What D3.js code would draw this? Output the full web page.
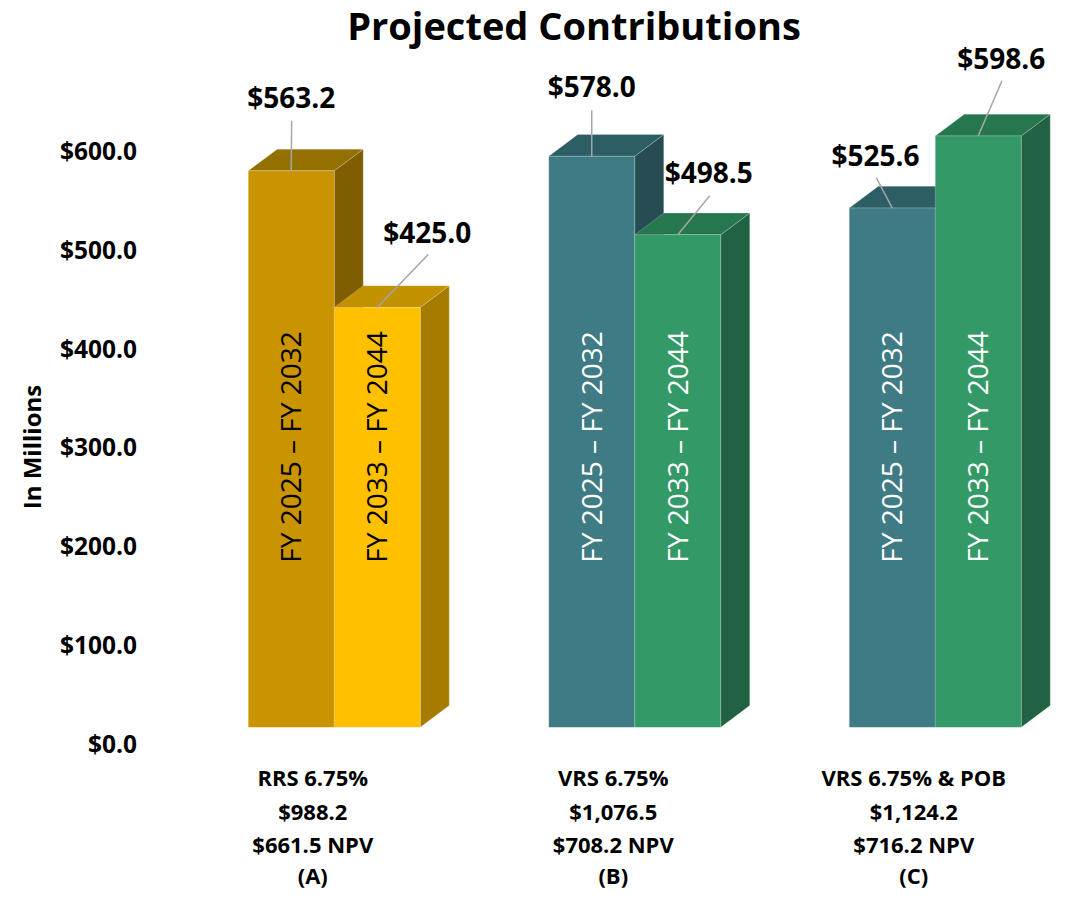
<!DOCTYPE html>
<html>
<head>
<meta charset="utf-8">
<script src="https://cdn.jsdelivr.net/npm/d3@7"></script>
<style>
  html, body { margin: 0; padding: 0; background: #ffffff; }
  svg { display: block; font-family: "Open Sans", "DejaVu Sans", sans-serif; }
</style>
</head>
<body>
<svg id="chart" width="1069" height="898"></svg>
<script>
// ---- data ----
const groups = ["A", "B", "C"];
const categoryLines = [
  ["RRS 6.75%", "$988.2", "$661.5 NPV", "(A)"],
  ["VRS 6.75%", "$1,076.5", "$708.2 NPV", "(B)"],
  ["VRS 6.75% & POB", "$1,124.2", "$716.2 NPV", "(C)"]
];
const seriesNames = ["FY 2025 \u2013 FY 2032", "FY 2033 \u2013 FY 2044"];
const valuesFirst = [563.2, 578.0, 525.6];   // FY 2025 – FY 2032
const valuesSecond = [425.0, 498.5, 598.6];  // FY 2033 – FY 2044
const yTicks = [0, 100, 200, 300, 400, 500, 600];

// ---- layout ----
const W = 1069, H = 898;
const depthX = 29, depthY = -21.7;           // 3D extrusion of each bar
const svg = d3.select("#chart");

const x = d3.scaleBand()
  .domain(groups)
  .range([184, 1085.5])
  .paddingInner(0.4276)
  .paddingOuter(0.2138);
const xs = d3.scaleBand().domain([0, 1]).range([0, x.bandwidth()]);
const y = d3.scaleLinear().domain([0, 600]).range([727.3, 134.5]);

// face colours per group and series: [front, top, side]
const palette = [
  [["#C99400", "#937000", "#7E5E00"], ["#FFC000", "#C29100", "#A57C00"]],
  [["#3F7B84", "#2D5E65", "#274D53"], ["#339966", "#27774E", "#216242"]],
  [["#3F7B84", "#2D5E65", "#274D53"], ["#339966", "#27774E", "#216242"]]
];
const innerTextColor = ["#000000", "#ffffff", "#ffffff"];

// value-label placement relative to the top-centre of each bar's front face
// [labelDx, labelDy, leaderDx, leaderDy]
const labelOffsets = [
  [[0, -63, 0.4, -50], [50, -64.7, 51, -53]],
  [[0, -59, 0, -46], [31, -51.5, 32, -39]],
  [[-16.7, -42, -16, -30.3], [23, -66.6, 23.7, -55.2]]
];

// ---- title ----
svg.append("text")
  .attr("x", 574).attr("y", 40)
  .attr("text-anchor", "middle")
  .attr("font-size", 38).attr("font-weight", 700)
  .attr("fill", "#000")
  .text("Projected Contributions");

// ---- y axis labels ----
const fmtTick = d => "$" + d3.format(",.1f")(d);
svg.append("g").selectAll("text")
  .data(yTicks).join("text")
  .attr("x", 137)
  .attr("y", d => y(d) + 17)
  .attr("dy", "0.35em")
  .attr("text-anchor", "end")
  .attr("font-size", 24.5).attr("font-weight", 700)
  .attr("fill", "#000")
  .text(fmtTick);

svg.append("text")
  .attr("transform", "translate(33,447) rotate(-90)")
  .attr("text-anchor", "middle")
  .attr("dy", "0.35em")
  .attr("font-size", 24).attr("font-weight", 700)
  .attr("fill", "#000")
  .text("In Millions");

// ---- bars ----
const bars = [];
groups.forEach((g, gi) => {
  [valuesFirst[gi], valuesSecond[gi]].forEach((v, si) => {
    bars.push({ g, gi, si, v });
  });
});

const barLayer = svg.append("g");
bars.forEach(b => {
  const x0 = x(b.g) + xs(b.si);
  const x1 = x0 + xs.bandwidth();
  const yTop = y(b.v), yBot = y(0);
  const [cFront, cTop, cSide] = palette[b.gi][b.si];
  const gBar = barLayer.append("g");
  const pts = p => p.map(q => q.join(",")).join(" ");
  // side face
  gBar.append("polygon")
    .attr("points", pts([[x1, yTop], [x1 + depthX, yTop + depthY], [x1 + depthX, yBot + depthY], [x1, yBot]]))
    .attr("fill", cSide)
    .attr("stroke", "#ffffff").attr("stroke-opacity", 0.25).attr("stroke-width", 0.8);
  // top face
  gBar.append("polygon")
    .attr("points", pts([[x0, yTop], [x1, yTop], [x1 + depthX, yTop + depthY], [x0 + depthX, yTop + depthY]]))
    .attr("fill", cTop)
    .attr("stroke", "#ffffff").attr("stroke-opacity", 0.25).attr("stroke-width", 0.8);
  // front face
  gBar.append("rect")
    .attr("x", x0).attr("y", yTop)
    .attr("width", x1 - x0).attr("height", yBot - yTop)
    .attr("fill", cFront)
    .attr("stroke", "#ffffff").attr("stroke-opacity", 0.25).attr("stroke-width", 0.8);
  // series name written up the bar
  gBar.append("text")
    .attr("transform", `translate(${(x0 + x1) / 2},447) rotate(-90)`)
    .attr("text-anchor", "middle")
    .attr("dy", "0.35em")
    .attr("font-size", 28)
    .attr("fill", innerTextColor[b.gi])
    .text(seriesNames[b.si]);
});

// ---- value labels with leader lines ----
const fmtVal = d => "$" + d3.format(",.1f")(d);
const labelLayer = svg.append("g");
bars.forEach(b => {
  const cx = x(b.g) + xs(b.si) + xs.bandwidth() / 2;
  const cy = y(b.v);
  const [ldx, ldy, pdx, pdy] = labelOffsets[b.gi][b.si];
  labelLayer.append("line")
    .attr("x1", cx + pdx).attr("y1", cy + pdy)
    .attr("x2", cx).attr("y2", cy)
    .attr("stroke", "#A6A6A6").attr("stroke-width", 1.5);
  labelLayer.append("text")
    .attr("x", cx + ldx).attr("y", cy + ldy)
    .attr("text-anchor", "middle")
    .attr("font-size", 28).attr("font-weight", 700)
    .attr("fill", "#000")
    .text(fmtVal(b.v));
});

// ---- category labels ----
const lineBaselines = [786, 819.5, 853, 884];
const catLayer = svg.append("g");
groups.forEach((g, gi) => {
  const cx = x(g) + x.bandwidth() / 2 - 21.5;
  categoryLines[gi].forEach((t, li) => {
    catLayer.append("text")
      .attr("x", cx).attr("y", lineBaselines[li])
      .attr("text-anchor", "middle")
      .attr("font-size", 22).attr("font-weight", 700)
      .attr("fill", "#000")
      .text(t);
  });
});
</script>
</body>
</html>
